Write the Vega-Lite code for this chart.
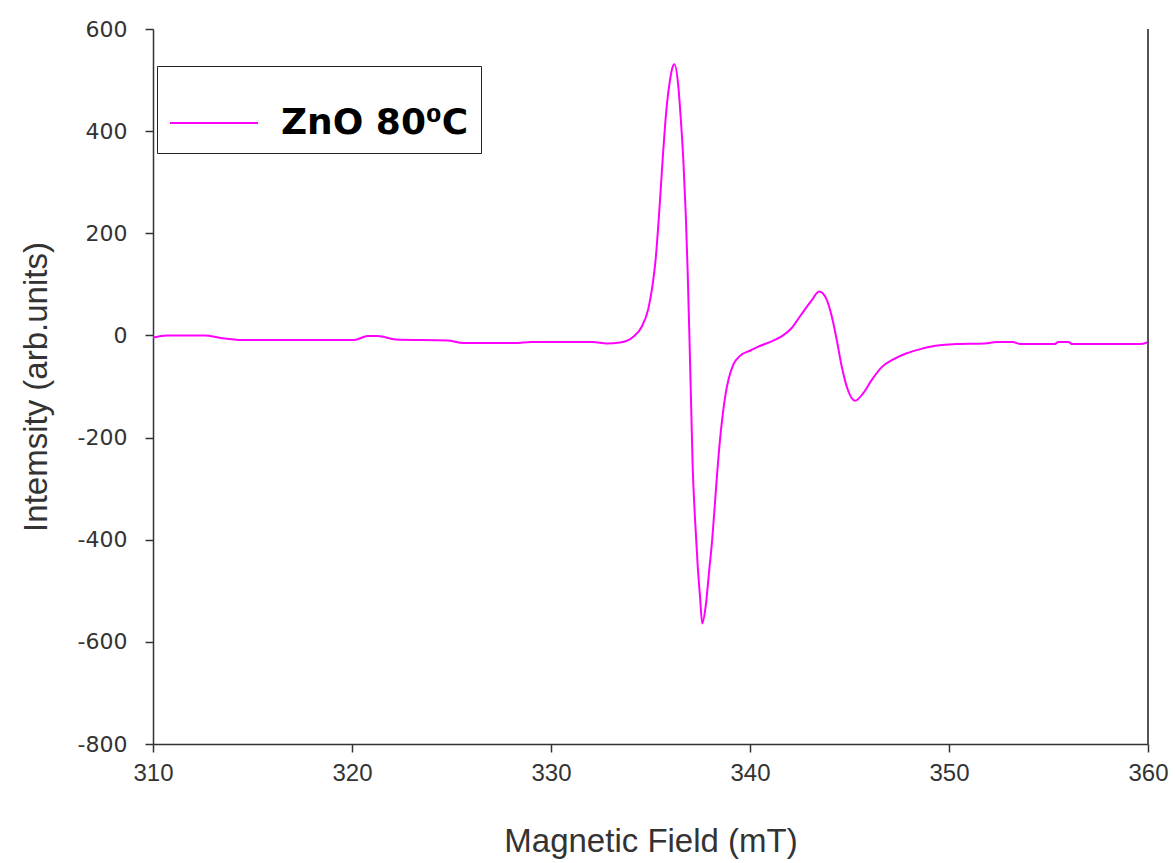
{
  "$schema": "https://vega.github.io/schema/vega-lite/v6.json",
  "width": 995,
  "height": 715,
  "autosize": "none",
  "padding": {"left": 153, "top": 29, "right": 27, "bottom": 119},
  "background": "white",
  "config": {
    "view": {"stroke": null},
    "axis": {"grid": false}
  },
  "data": {
    "values": [
      {"mT": 310.0, "intensity": -4, "series": "ZnO 80⁰C"},
      {"mT": 310.7, "intensity": 0, "series": "ZnO 80⁰C"},
      {"mT": 312.6, "intensity": 0, "series": "ZnO 80⁰C"},
      {"mT": 313.4, "intensity": -5, "series": "ZnO 80⁰C"},
      {"mT": 314.5, "intensity": -9, "series": "ZnO 80⁰C"},
      {"mT": 320.1, "intensity": -9, "series": "ZnO 80⁰C"},
      {"mT": 320.8, "intensity": -1, "series": "ZnO 80⁰C"},
      {"mT": 321.3, "intensity": -1, "series": "ZnO 80⁰C"},
      {"mT": 322.2, "intensity": -8, "series": "ZnO 80⁰C"},
      {"mT": 324.8, "intensity": -10, "series": "ZnO 80⁰C"},
      {"mT": 325.6, "intensity": -15, "series": "ZnO 80⁰C"},
      {"mT": 328.2, "intensity": -15, "series": "ZnO 80⁰C"},
      {"mT": 329.0, "intensity": -13, "series": "ZnO 80⁰C"},
      {"mT": 332.1, "intensity": -13, "series": "ZnO 80⁰C"},
      {"mT": 332.8, "intensity": -16, "series": "ZnO 80⁰C"},
      {"mT": 333.47, "intensity": -14, "series": "ZnO 80⁰C"},
      {"mT": 334.12, "intensity": -3, "series": "ZnO 80⁰C"},
      {"mT": 334.56, "intensity": 17, "series": "ZnO 80⁰C"},
      {"mT": 334.89, "intensity": 52, "series": "ZnO 80⁰C"},
      {"mT": 335.09, "intensity": 95, "series": "ZnO 80⁰C"},
      {"mT": 335.26, "intensity": 150, "series": "ZnO 80⁰C"},
      {"mT": 335.40, "intensity": 220, "series": "ZnO 80⁰C"},
      {"mT": 335.52, "intensity": 290, "series": "ZnO 80⁰C"},
      {"mT": 335.62, "intensity": 350, "series": "ZnO 80⁰C"},
      {"mT": 335.73, "intensity": 410, "series": "ZnO 80⁰C"},
      {"mT": 335.84, "intensity": 458, "series": "ZnO 80⁰C"},
      {"mT": 335.98, "intensity": 500, "series": "ZnO 80⁰C"},
      {"mT": 336.10, "intensity": 524, "series": "ZnO 80⁰C"},
      {"mT": 336.20, "intensity": 531, "series": "ZnO 80⁰C"},
      {"mT": 336.40, "intensity": 487, "series": "ZnO 80⁰C"},
      {"mT": 336.52, "intensity": 425, "series": "ZnO 80⁰C"},
      {"mT": 336.65, "intensity": 343, "series": "ZnO 80⁰C"},
      {"mT": 336.77, "intensity": 239, "series": "ZnO 80⁰C"},
      {"mT": 336.87, "intensity": 122, "series": "ZnO 80⁰C"},
      {"mT": 336.96, "intensity": -9, "series": "ZnO 80⁰C"},
      {"mT": 337.04, "intensity": -133, "series": "ZnO 80⁰C"},
      {"mT": 337.12, "intensity": -257, "series": "ZnO 80⁰C"},
      {"mT": 337.24, "intensity": -361, "series": "ZnO 80⁰C"},
      {"mT": 337.37, "intensity": -450, "series": "ZnO 80⁰C"},
      {"mT": 337.49, "intensity": -512, "series": "ZnO 80⁰C"},
      {"mT": 337.60, "intensity": -564, "series": "ZnO 80⁰C"},
      {"mT": 337.77, "intensity": -531, "series": "ZnO 80⁰C"},
      {"mT": 337.95, "intensity": -460, "series": "ZnO 80⁰C"},
      {"mT": 338.10, "intensity": -400, "series": "ZnO 80⁰C"},
      {"mT": 338.22, "intensity": -338, "series": "ZnO 80⁰C"},
      {"mT": 338.35, "intensity": -270, "series": "ZnO 80⁰C"},
      {"mT": 338.49, "intensity": -205, "series": "ZnO 80⁰C"},
      {"mT": 338.63, "intensity": -155, "series": "ZnO 80⁰C"},
      {"mT": 338.76, "intensity": -118, "series": "ZnO 80⁰C"},
      {"mT": 338.93, "intensity": -85, "series": "ZnO 80⁰C"},
      {"mT": 339.16, "intensity": -57, "series": "ZnO 80⁰C"},
      {"mT": 339.50, "intensity": -40, "series": "ZnO 80⁰C"},
      {"mT": 340.05, "intensity": -29, "series": "ZnO 80⁰C"},
      {"mT": 340.42, "intensity": -22, "series": "ZnO 80⁰C"},
      {"mT": 341.06, "intensity": -12, "series": "ZnO 80⁰C"},
      {"mT": 341.59, "intensity": -2, "series": "ZnO 80⁰C"},
      {"mT": 342.06, "intensity": 13, "series": "ZnO 80⁰C"},
      {"mT": 342.56, "intensity": 40, "series": "ZnO 80⁰C"},
      {"mT": 343.07, "intensity": 67, "series": "ZnO 80⁰C"},
      {"mT": 343.48, "intensity": 86, "series": "ZnO 80⁰C"},
      {"mT": 343.82, "intensity": 73, "series": "ZnO 80⁰C"},
      {"mT": 344.11, "intensity": 37, "series": "ZnO 80⁰C"},
      {"mT": 344.36, "intensity": -9, "series": "ZnO 80⁰C"},
      {"mT": 344.61, "intensity": -61, "series": "ZnO 80⁰C"},
      {"mT": 344.86, "intensity": -100, "series": "ZnO 80⁰C"},
      {"mT": 345.28, "intensity": -128, "series": "ZnO 80⁰C"},
      {"mT": 345.69, "intensity": -113, "series": "ZnO 80⁰C"},
      {"mT": 346.12, "intensity": -87, "series": "ZnO 80⁰C"},
      {"mT": 346.62, "intensity": -62, "series": "ZnO 80⁰C"},
      {"mT": 347.20, "intensity": -47, "series": "ZnO 80⁰C"},
      {"mT": 347.87, "intensity": -35, "series": "ZnO 80⁰C"},
      {"mT": 348.54, "intensity": -27, "series": "ZnO 80⁰C"},
      {"mT": 349.05, "intensity": -22, "series": "ZnO 80⁰C"},
      {"mT": 350.39, "intensity": -17, "series": "ZnO 80⁰C"},
      {"mT": 351.8, "intensity": -16, "series": "ZnO 80⁰C"},
      {"mT": 352.4, "intensity": -13, "series": "ZnO 80⁰C"},
      {"mT": 353.2, "intensity": -13, "series": "ZnO 80⁰C"},
      {"mT": 353.6, "intensity": -17, "series": "ZnO 80⁰C"},
      {"mT": 355.3, "intensity": -17, "series": "ZnO 80⁰C"},
      {"mT": 355.5, "intensity": -13, "series": "ZnO 80⁰C"},
      {"mT": 356.0, "intensity": -13, "series": "ZnO 80⁰C"},
      {"mT": 356.2, "intensity": -17, "series": "ZnO 80⁰C"},
      {"mT": 359.6, "intensity": -17, "series": "ZnO 80⁰C"},
      {"mT": 360.0, "intensity": -13, "series": "ZnO 80⁰C"}
    ]
  },
  "layer": [
    {
      "mark": {"type": "line", "strokeWidth": 2, "interpolate": "monotone", "clip": true},
      "encoding": {
        "x": {
          "field": "mT",
          "type": "quantitative",
          "scale": {"domain": [310, 360], "nice": false, "zero": false},
          "axis": {
            "title": "Magnetic Field (mT)",
            "values": [310, 320, 330, 340, 350, 360],
            "format": "d",
            "labelFlush": false,
            "domainColor": "#333333",
            "domainWidth": 1.5,
            "tickColor": "#333333",
            "tickWidth": 1.5,
            "tickSize": 8,
            "labelFont": "Liberation Sans",
            "labelFontSize": 24,
            "labelColor": "#333333",
            "labelPadding": 9,
            "titleFont": "Liberation Sans",
            "titleFontSize": 33,
            "titleFontWeight": "normal",
            "titleColor": "#333333",
            "titlePadding": 40
          }
        },
        "y": {
          "field": "intensity",
          "type": "quantitative",
          "scale": {"domain": [-800, 600], "nice": false},
          "axis": {
            "title": "Intemsity (arb.units)",
            "values": [-800, -600, -400, -200, 0, 200, 400, 600],
            "labelExpr": "'' + datum.value",
            "domainColor": "#333333",
            "domainWidth": 1.5,
            "tickColor": "#333333",
            "tickWidth": 1.5,
            "tickSize": 8,
            "labelFont": "DejaVu Sans",
            "labelFontSize": 22,
            "labelColor": "#333333",
            "labelPadding": 18,
            "titleFont": "Liberation Sans",
            "titleFontSize": 33,
            "titleFontWeight": "normal",
            "titleColor": "#333333",
            "titlePadding": 24
          }
        },
        "color": {
          "field": "series",
          "type": "nominal",
          "scale": {"range": ["#FF00FF"]},
          "legend": {
            "title": null,
            "orient": "none",
            "legendX": 4,
            "legendY": 37,
            "strokeColor": "#222222",
            "fillColor": "white",
            "padding": 12,
            "symbolType": "stroke",
            "symbolSize": 7744,
            "symbolStrokeWidth": 2,
            "labelOffset": 22,
            "labelFont": "DejaVu Sans",
            "labelFontSize": 36,
            "labelFontWeight": "bold",
            "labelColor": "black",
            "labelLimit": 400
          }
        }
      }
    },
    {
      "mark": {"type": "rule", "color": "#555555", "strokeWidth": 1.5},
      "encoding": {"x": {"datum": 360}}
    }
  ]
}
